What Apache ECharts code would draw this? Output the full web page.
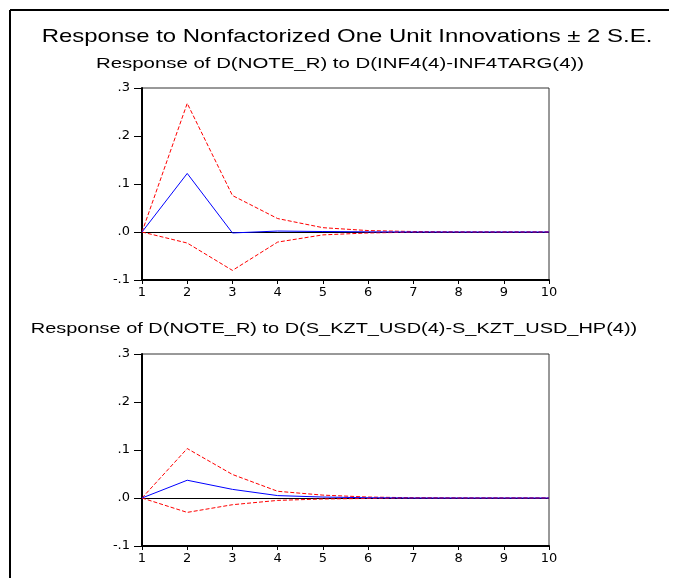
<!DOCTYPE html>
<html>
<head>
<meta charset="utf-8">
<script src="https://cdn.jsdelivr.net/npm/echarts@6/dist/echarts.min.js"></script>
<style>html,body{margin:0;padding:0;background:#fff}#c{width:674px;height:578px}</style>
</head>
<body>
<div id="c"></div>
<script>
var mainTitle = 'Response to Nonfactorized One Unit Innovations \u00b1 2 S.E.';
var subTitle1 = 'Response of D(NOTE_R) to D(INF4(4)-INF4TARG(4))';
var subTitle2 = 'Response of D(NOTE_R) to D(S_KZT_USD(4)-S_KZT_USD_HP(4))';
var periods = [1, 2, 3, 4, 5, 6, 7, 8, 9, 10];

var resp1  = [0, 0.122, -0.002, 0.002, 0.001, 0.0003, 0, 0, 0, 0];
var upper1 = [0, 0.268, 0.076, 0.028, 0.009, 0.003, 0.001, 0, 0, 0];
var lower1 = [0, -0.023, -0.080, -0.021, -0.006, -0.002, -0.0005, 0, 0, 0];

var resp2  = [0, 0.037, 0.018, 0.005, 0.002, 0.0005, 0, 0, 0, 0];
var upper2 = [0, 0.103, 0.049, 0.014, 0.006, 0.002, 0.0005, 0, 0, 0];
var lower2 = [0, -0.030, -0.014, -0.005, -0.002, -0.001, 0, 0, 0, 0];

var yTicks = { min: -0.1, max: 0.3, interval: 0.1 };

function pairs(vals) { return periods.map(function (p, i) { return [p, vals[i]]; }); }
function yFmt(v) { var s = (Math.round(v * 10) / 10).toFixed(1); return s.replace('0.', '.'); }

var font = 'Liberation Sans, Arial, sans-serif';
var tickFont = 'DejaVu Sans, sans-serif';

function xAx(gi) {
  return {
    gridIndex: gi, type: 'value', min: 1, max: 10, interval: 1,
    axisLine: { show: true, onZero: false, lineStyle: { color: '#000', width: 2 } },
    axisTick: { show: true, inside: false, length: 4, lineStyle: { color: '#000', width: 1 } },
    axisLabel: { color: '#000', fontSize: 13, fontFamily: tickFont, margin: 6 },
    splitLine: { show: false }
  };
}
function yAx(gi) {
  return {
    gridIndex: gi, type: 'value', min: yTicks.min, max: yTicks.max, interval: yTicks.interval,
    axisLine: { show: true, lineStyle: { color: '#000', width: 2 } },
    axisTick: { show: true, inside: false, length: 8, lineStyle: { color: '#000', width: 1 } },
    axisLabel: { color: '#000', fontSize: 13, fontFamily: tickFont, margin: 12, formatter: yFmt },
    splitLine: { show: false }
  };
}
function lineSeries(gi, vals, color, dashed, withZero) {
  var s = {
    type: 'line', xAxisIndex: gi, yAxisIndex: gi, data: pairs(vals),
    symbol: 'none', silent: true, animation: false,
    lineStyle: { color: color, width: 1, type: dashed ? [4, 2] : 'solid' },
    z: dashed ? 3 : 4
  };
  if (withZero) {
    s.markLine = {
      silent: true, symbol: 'none', animation: false, label: { show: false },
      lineStyle: { color: '#000', width: 1, type: 'solid' },
      data: [{ yAxis: 0 }], z: 2
    };
  }
  return s;
}

var chart = echarts.init(document.getElementById('c'), null, { renderer: 'canvas' });
chart.setOption({
  backgroundColor: '#fff',
  animation: false,
  textStyle: { fontFamily: font },
  grid: [
    { left: 142, top: 88, width: 407, height: 192, show: true, borderColor: '#333', borderWidth: 1, backgroundColor: 'transparent' },
    { left: 142, top: 354, width: 407, height: 192, show: true, borderColor: '#333', borderWidth: 1, backgroundColor: 'transparent' }
  ],
  xAxis: [xAx(0), xAx(1)],
  yAxis: [yAx(0), yAx(1)],
  series: [
    lineSeries(0, upper1, '#ff0000', true, true),
    lineSeries(0, lower1, '#ff0000', true, false),
    lineSeries(0, resp1, '#0000ff', false, false),
    lineSeries(1, upper2, '#ff0000', true, true),
    lineSeries(1, lower2, '#ff0000', true, false),
    lineSeries(1, resp2, '#0000ff', false, false)
  ],
  graphic: [
    { type: 'line', shape: { x1: 10, y1: 10, x2: 669, y2: 10 }, style: { stroke: '#000', lineWidth: 2 } },
    { type: 'line', shape: { x1: 10, y1: 10, x2: 10, y2: 578 }, style: { stroke: '#000', lineWidth: 2 } },
    { type: 'text', x: 347, y: 37, scaleX: 1.26, style: { text: mainTitle, fill: '#000', font: '19px ' + font, textAlign: 'center', textVerticalAlign: 'middle' } },
    { type: 'text', x: 340, y: 64, scaleX: 1.36, style: { text: subTitle1, fill: '#000', font: '15px ' + font, textAlign: 'center', textVerticalAlign: 'middle' } },
    { type: 'text', x: 334, y: 329, scaleX: 1.33, style: { text: subTitle2, fill: '#000', font: '15px ' + font, textAlign: 'center', textVerticalAlign: 'middle' } }
  ]
});
</script>
</body>
</html>
